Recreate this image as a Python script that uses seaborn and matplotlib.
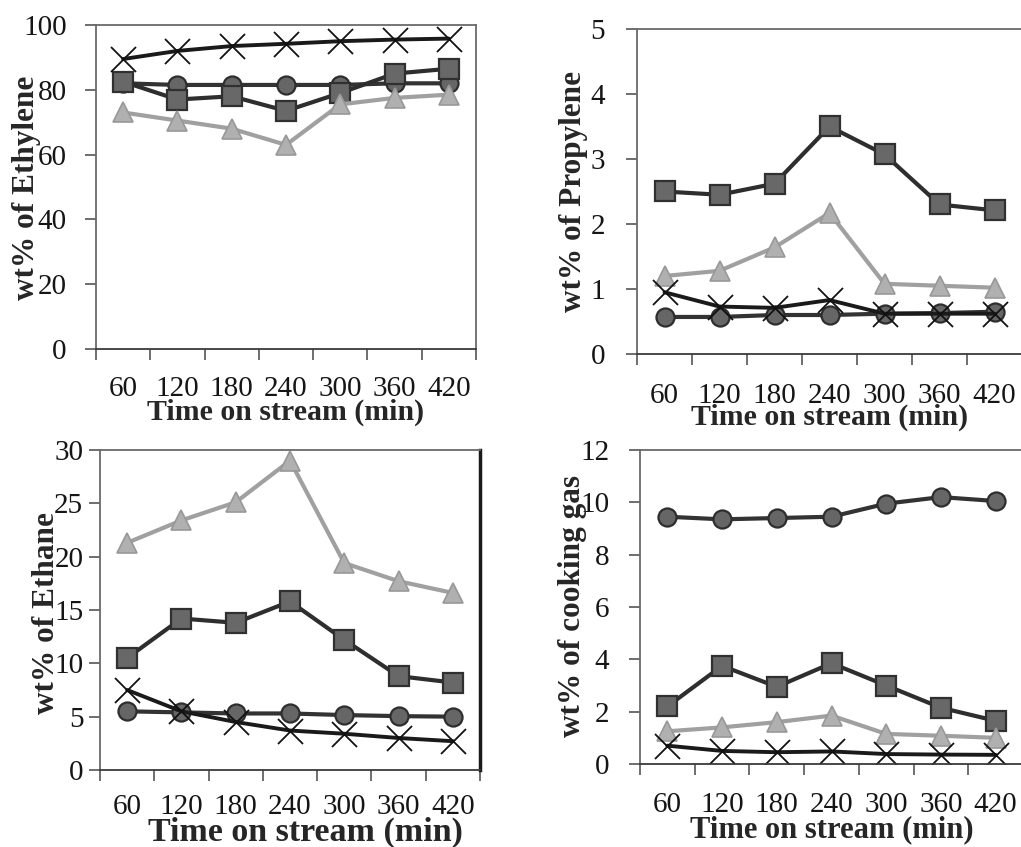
import matplotlib
matplotlib.use("Agg")
import matplotlib.pyplot as plt
import pandas as pd
import seaborn as sns

# Sampling times (min)
time_min = [60, 120, 180, 240, 300, 360, 420]

# wt% of ethylene
ethylene_circle = [82, 81.5, 81.5, 81.5, 81.5, 82, 82]
ethylene_square = [82.5, 77, 78, 73.5, 79, 85, 86.5]
ethylene_triangle = [73, 70.5, 68, 63, 75.5, 77.5, 78.5]
ethylene_cross = [89.5, 92, 93.5, 94.2, 95, 95.5, 95.8]

# wt% of propylene
propylene_circle = [0.57, 0.57, 0.6, 0.6, 0.62, 0.63, 0.65]
propylene_square = [2.5, 2.45, 2.62, 3.5, 3.07, 2.3, 2.21]
propylene_triangle = [1.2, 1.28, 1.64, 2.17, 1.08, 1.05, 1.02]
propylene_cross = [0.95, 0.73, 0.71, 0.83, 0.62, 0.62, 0.62]

# wt% of ethane
ethane_circle = [5.5, 5.4, 5.3, 5.3, 5.15, 5.05, 5.0]
ethane_square = [10.5, 14.2, 13.8, 15.8, 12.2, 8.8, 8.2]
ethane_triangle = [21.3, 23.4, 25.1, 29.0, 19.4, 17.7, 16.6]
ethane_cross = [7.5, 5.5, 4.5, 3.7, 3.4, 3.0, 2.7]

# wt% of cooking gas
gas_circle = [9.45, 9.35, 9.4, 9.45, 9.95, 10.2, 10.05]
gas_square = [2.2, 3.75, 2.95, 3.85, 3.0, 2.15, 1.65]
gas_triangle = [1.25, 1.4, 1.6, 1.85, 1.15, 1.08, 1.0]
gas_cross = [0.7, 0.5, 0.45, 0.48, 0.38, 0.36, 0.35]

sns.set_theme(style="white")
plt.rcParams["font.family"] = ["Liberation Serif", "DejaVu Serif"]
plt.rcParams["text.color"] = "#111111"

series_style = {
    "circle": dict(marker="o", color="#333333", markerfacecolor="#666666",
                   markeredgecolor="#2e2e2e", markersize=13, markeredgewidth=1.6,
                   linewidth=3.0),
    "square": dict(marker="s", color="#2e2e2e", markerfacecolor="#686868",
                   markeredgecolor="#303030", markersize=14, markeredgewidth=1.6,
                   linewidth=3.0),
    "triangle": dict(marker="^", color="#a0a0a0", markerfacecolor="#b0b0b0",
                     markeredgecolor="#989898", markersize=14, markeredgewidth=1.2,
                     linewidth=3.0),
    "cross": dict(marker="x", color="#1a1a1a", markeredgecolor="#111111",
                  markersize=18, markeredgewidth=1.3, linewidth=2.8),
}


def long_table(circle, square, triangle, cross):
    parts = []
    for name, vals in (("circle", circle), ("square", square),
                       ("triangle", triangle), ("cross", cross)):
        parts.append(pd.DataFrame({"time": time_min, "wt": vals, "series": name}))
    return pd.concat(parts, ignore_index=True)


panels = [
    dict(data=long_table(ethylene_circle, ethylene_square, ethylene_triangle, ethylene_cross),
         rect=[96, 25, 476, 349], ylim=(0, 100), ystep=20, ylabel="wt% of Ethylene",
         ylab=(-0.182, 0.497), xlab=(0.5, -0.196), xpad=19.5, ypad=13, xfs=21.5, right=None),
    dict(data=long_table(propylene_circle, propylene_square, propylene_triangle, propylene_cross),
         rect=[637, 29, 1022, 354], ylim=(0, 5), ystep=1, ylabel="wt% of Propylene",
         ylab=(-0.164, 0.5), xlab=(0.5, -0.196), xpad=21, ypad=15, xfs=21.5, right=None),
    dict(data=long_table(ethane_circle, ethane_square, ethane_triangle, ethane_cross),
         rect=[100, 450, 480, 770], ylim=(0, 30), ystep=5, ylabel="wt% of Ethane",
         ylab=(-0.142, 0.49), xlab=(0.54, -0.196), xpad=17.6, ypad=4, xfs=24.5, right=2.5),
    dict(data=long_table(gas_circle, gas_square, gas_triangle, gas_cross),
         rect=[640, 450, 1023, 764], ylim=(0, 12), ystep=2, ylabel="wt% of cooking gas",
         ylab=(-0.175, 0.503), xlab=(0.5, -0.21), xpad=20.5, ypad=14, xfs=22, right=None),
]

W, H = 1021, 847
fig = plt.figure(figsize=(W / 100, H / 100), dpi=100)

bounds = [30, 90, 150, 210, 270, 330, 390, 450]

for p in panels:
    x0, y0, x1, y1 = p["rect"]
    ax = fig.add_axes([x0 / W, (H - y1) / H, (x1 - x0) / W, (y1 - y0) / H])
    df = p["data"]
    for name in ["circle", "square", "triangle", "cross"]:
        sub = df[df["series"] == name]
        sns.lineplot(data=sub, x="time", y="wt", ax=ax, errorbar=None,
                     legend=False, **series_style[name])

    ax.set_xlim(bounds[0], bounds[-1])
    ax.set_ylim(*p["ylim"])
    lo, hi = p["ylim"]
    ax.set_yticks(list(range(lo, hi + 1, p["ystep"])))

    # boundary ticks without labels, labels centred on the sampling times
    ax.set_xticks(bounds)
    ax.set_xticklabels([])
    ax.set_xticks(time_min, minor=True)
    ax.set_xticklabels([str(t) for t in time_min], minor=True)
    ax.tick_params(axis="x", which="major", direction="out", length=8, width=1.2,
                   color="#555555", bottom=True)
    ax.tick_params(axis="x", which="minor", length=0, pad=p["xpad"],
                   labelsize=21, labelcolor="#151515", bottom=True)
    ax.tick_params(axis="y", direction="out", length=8, width=1.2, color="#555555",
                   pad=p["ypad"], labelsize=21, labelcolor="#151515", left=True)

    for side, sp in ax.spines.items():
        sp.set_visible(True)
        sp.set_color("#6a6a6a")
        sp.set_linewidth(1.3)
    ax.spines["bottom"].set_color("#3a3a3a")
    if p["right"]:
        ax.spines["right"].set_color("#1a1a1a")
        ax.spines["right"].set_linewidth(p["right"])

    ax.set_ylabel(p["ylabel"], fontsize=22.5, fontweight="bold", va="center")
    ax.yaxis.set_label_coords(*p["ylab"])
    ax.set_xlabel("Time on stream (min)", fontsize=p["xfs"], fontweight="bold",
                  va="center")
    ax.xaxis.set_label_coords(*p["xlab"])
    ax.grid(False)

fig.savefig("out.png", dpi=100, facecolor="white")
